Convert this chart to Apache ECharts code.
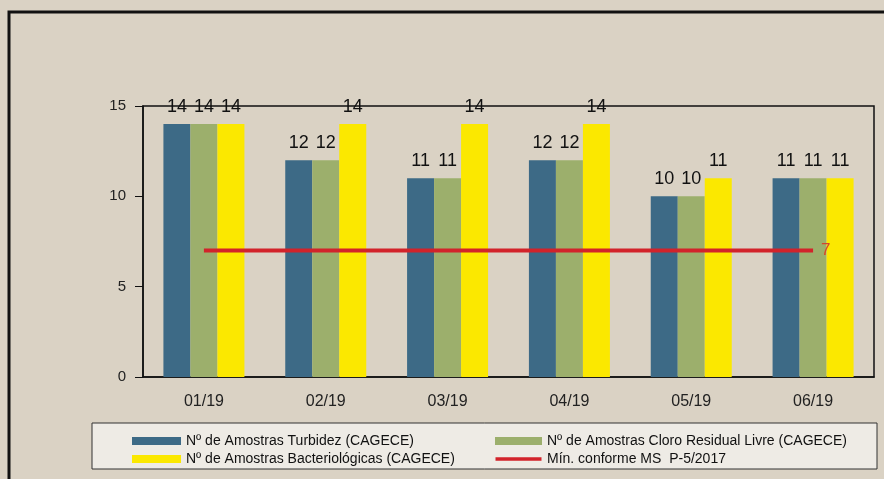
<!DOCTYPE html>
<html><head><meta charset="utf-8">
<script src="https://cdn.jsdelivr.net/npm/echarts@6/dist/echarts.min.js"></script>
<style>html,body{margin:0;padding:0;background:#dad2c4;}#c{width:884px;height:479px;}</style>
</head><body><div id="c"></div>
<script>
const categories = ['01/19','02/19','03/19','04/19','05/19','06/19'];
const turbidez = [14,12,11,12,10,11];
const cloro = [14,12,11,12,10,11];
const bacterio = [14,14,14,14,11,11];
const minimo = [7,7,7,7,7,7];
const yTicks = [0,5,10,15];
const names = ['Nº de Amostras Turbidez (CAGECE)','Nº de Amostras Cloro Residual Livre (CAGECE)','Nº de Amostras Bacteriológicas (CAGECE)','Mín. conforme MS  P-5/2017'];

const chart = echarts.init(document.getElementById('c'));
const font = 'Liberation Sans, Arial, sans-serif';
const barLabel = {show:true, position:'top', distance:8, fontSize:18, color:'#111', fontFamily:font};
const lineIcon = 'path://M0,0 L0.2,0 L0.2,0.01 Z M0,2.2 L46,2.2 L46,5.8 L0,5.8 Z M0,8 L0.2,8 L0.2,7.99 Z';
chart.setOption({
  backgroundColor:'#dad2c4',
  animation:false,
  textStyle:{fontFamily:font},
  graphic:[
    {type:'rect', z:-1, shape:{x:9,y:12,width:900,height:500}, style:{fill:'none', stroke:'#111', lineWidth:3}},
    {type:'rect', z:-1, shape:{x:92,y:423,width:785,height:46}, style:{fill:'#eeebe5', stroke:'#333', lineWidth:1}}
  ],
  grid:{left:143, right:10, top:106, bottom:102, show:true, borderColor:'#111', borderWidth:1.5, backgroundColor:'transparent'},
  legend:[
    {orient:'vertical', left:127, top:429, itemWidth:49, itemHeight:8, itemGap:4,
     textStyle:{fontSize:14, color:'#111', fontFamily:font},
     data:[{name:names[0], icon:'rect'},{name:names[2], icon:'rect'}]},
    {orient:'vertical', left:490, top:429, itemWidth:47, itemHeight:8, itemGap:4,
     textStyle:{fontSize:14, color:'#111', fontFamily:font},
     data:[{name:names[1], icon:'rect'},{name:names[3], icon:lineIcon}]}
  ],
  xAxis:{type:'category', data:categories,
    axisLine:{lineStyle:{color:'#111', width:1.5}},
    axisTick:{length:7, lineStyle:{color:'#111'}},
    axisLabel:{fontSize:16, color:'#222', margin:17, fontFamily:font}},
  yAxis:{type:'value', min:yTicks[0], max:yTicks[yTicks.length-1], interval:5,
    axisLine:{show:true, lineStyle:{color:'#111', width:1.5}},
    axisTick:{show:true, length:8, lineStyle:{color:'#111'}},
    splitLine:{show:false},
    axisLabel:{fontSize:15, color:'#222', margin:17, fontFamily:font}},
  series:[
    {name:names[0], type:'bar', data:turbidez, barWidth:27, barGap:'0%', itemStyle:{color:'#3d6a86'}, label:barLabel},
    {name:names[1], type:'bar', data:cloro, barWidth:27, barGap:'0%', itemStyle:{color:'#9caf6c'}, label:barLabel},
    {name:names[2], type:'bar', data:bacterio, barWidth:27, barGap:'0%', itemStyle:{color:'#fbe800'}, label:barLabel},
    {name:names[3], type:'line', data:minimo, symbol:'none', z:5,
     lineStyle:{color:'#d2232a', width:4}, itemStyle:{color:'#d2232a'},
     endLabel:{show:true, formatter:'{c}', color:'#d4472c', fontSize:17, distance:8, fontFamily:font}}
  ]
});
</script></body></html>
